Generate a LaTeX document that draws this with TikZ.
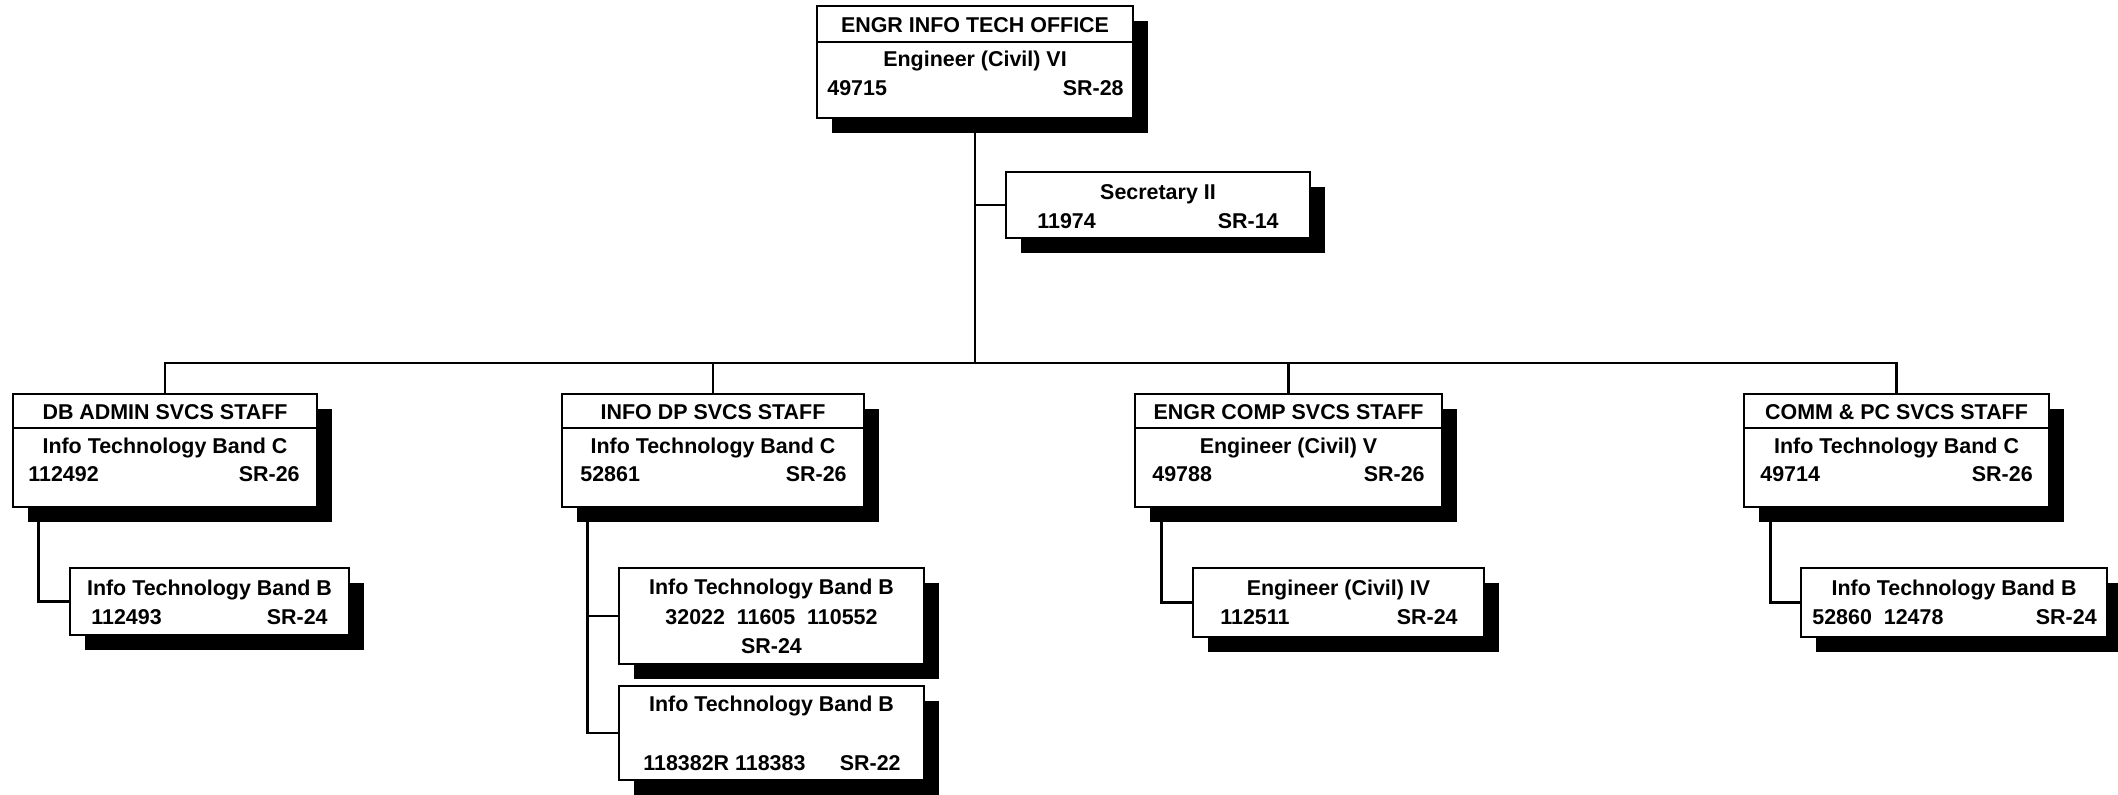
\documentclass[tikz,border=0pt]{standalone}
\usepackage{fontspec}
\setmainfont{Liberation Sans}
\usetikzlibrary{positioning, fit, shadows}

\begin{document}
\begin{tikzpicture}[
    x=0.02cm, y=-0.02cm,
    font=\fontsize{12.2}{14}\selectfont\bfseries,
    ln/.style={line width=1.5pt},
    post/.style={draw, line width=1.5pt, fill=white, inner sep=0pt,
                 drop shadow={shadow xshift=0.3cm, shadow yshift=-0.3cm,
                              fill=black, opacity=1}},
    hdr/.style={draw, line width=1.5pt, inner sep=0pt},
    txt/.style={inner sep=0pt, anchor=base},
    num/.style={inner sep=0pt, anchor=base west},
    grd/.style={inner sep=0pt, anchor=base east}
  ]
  \useasboundingbox (0,0) rectangle (2118,794);

  % office head
  \node[post, fit={(817,6) (1133,118)}] (top) {};
  \node[hdr, fit={(817,6) (1133,42)}] (toph) {};
  \node[txt] (tophl) at (975,33) {ENGR INFO TECH OFFICE};
  \node[txt] (topt) at (975,66.5) {Engineer (Civil) VI};
  \node[num] (topn) at (827,95.5) {49715};
  \node[grd] (topg) at (1124,95.5) {SR-28};

  % secretary
  \node[post, fit={(1006,172) (1310,238)}] (sec) {};
  \node[txt] (sect) at (1158,199.5) {Secretary II};
  \node[num] (secn) at (1037,228.3) {11974};
  \node[grd] (secg) at (1279,228.3) {SR-14};

  % staffs
  \node[post, fit={(13,394) (317,507)}] (db) {};
  \node[hdr, fit={(13,394) (317,428)}] (dbh) {};
  \node[txt] (dbhl) at (165,419.3) {DB ADMIN SVCS STAFF};
  \node[txt] (dbt) at (165,453.3) {Info Technology Band C};
  \node[num] (dbn) at (28,481.7) {112492};
  \node[grd] (dbg) at (300,481.7) {SR-26};

  \node[post, fit={(562,394) (864,507)}] (info) {};
  \node[hdr, fit={(562,394) (864,428)}] (infoh) {};
  \node[txt] (infohl) at (713,419.3) {INFO DP SVCS STAFF};
  \node[txt] (infot) at (713,453.3) {Info Technology Band C};
  \node[num] (infon) at (580,481.7) {52861};
  \node[grd] (infog) at (847,481.7) {SR-26};

  \node[post, fit={(1135,394) (1442,507)}] (engr) {};
  \node[hdr, fit={(1135,394) (1442,428)}] (engrh) {};
  \node[txt] (engrhl) at (1288.5,419.3) {ENGR COMP SVCS STAFF};
  \node[txt] (engrt) at (1288.5,453.3) {Engineer (Civil) V};
  \node[num] (engrn) at (1152,481.7) {49788};
  \node[grd] (engrg) at (1425,481.7) {SR-26};

  \node[post, fit={(1744,394) (2049,507)}] (comm) {};
  \node[hdr, fit={(1744,394) (2049,428)}] (commh) {};
  \node[txt] (commhl) at (1896.5,419.3) {COMM \& PC SVCS STAFF};
  \node[txt] (commt) at (1896.5,453.3) {Info Technology Band C};
  \node[num] (commn) at (1760,481.7) {49714};
  \node[grd] (commg) at (2033,481.7) {SR-26};

  % positions under the staffs
  \node[post, fit={(70,568) (349,635)}] (dbc) {};
  \node[txt] (dbct) at (209.5,595.7) {Info Technology Band B};
  \node[num] (dbcn) at (91,624.3) {112493};
  \node[grd] (dbcg) at (328,624.3) {SR-24};

  \node[post, fit={(619,568) (924,664)}] (infoa) {};
  \node[txt] (infoat) at (771.5,594.3) {Info Technology Band B};
  \node[txt] (infoan) at (771.5,624.3) {32022\ \ 11605\ \ 110552};
  \node[txt] (infoag) at (771.5,653.3) {SR-24};

  \node[post, fit={(619,686) (924,780)}] (infob) {};
  \node[txt] (infobt) at (771.5,711.7) {Info Technology Band B};
  \node[num] (infobn) at (643,770) {118382R 118383};
  \node[grd] (infobg) at (901,770) {SR-22};

  \node[post, fit={(1193,568) (1484,637)}] (engrc) {};
  \node[txt] (engrct) at (1338.5,595.7) {Engineer (Civil) IV};
  \node[num] (engrcn) at (1220,624.3) {112511};
  \node[grd] (engrcg) at (1458,624.3) {SR-24};

  \node[post, fit={(1801,568) (2107,637)}] (commc) {};
  \node[txt] (commct) at (1954,595.7) {Info Technology Band B};
  \node[num] (commcn) at (1812,624.3) {52860\ \ 12478};
  \node[grd] (commcg) at (2097,624.3) {SR-24};

  % connectors
  \coordinate (bus) at (975,363);
  \draw[ln] (top.south) -- (bus);
  \draw[ln] (sec.west) -- (sec.west -| top.south);
  \draw[ln] (db.north) |- (bus) -| (comm.north);
  \draw[ln] (info.north) -- (info.north |- bus);
  \draw[ln] (engr.north) -- (engr.north |- bus);

  \draw[ln] ([xshift=0.54cm]db.south west) |- (dbc.west);
  \coordinate (infoj) at ([xshift=0.54cm]info.south west);
  \draw[ln] (infoj) |- (infob.west) (infoj) |- (infoa.west);
  \draw[ln] ([xshift=0.56cm]engr.south west) |- (engrc.west);
  \draw[ln] ([xshift=0.56cm]comm.south west) |- (commc.west);
\end{tikzpicture}
\end{document}
